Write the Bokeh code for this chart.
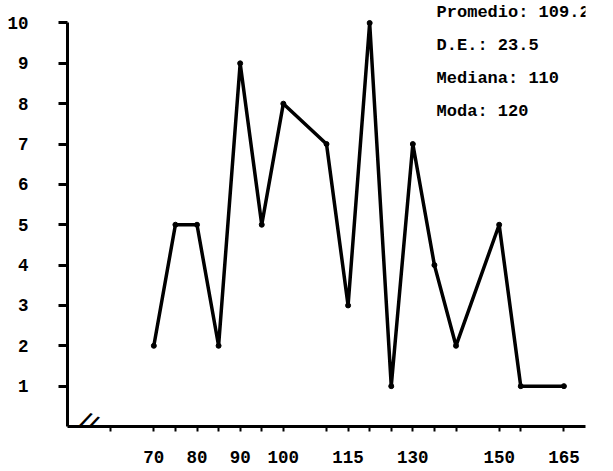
from bokeh.plotting import figure
from bokeh.models import Range1d, FixedTicker, Label
from bokeh.embed import file_html
from bokeh.resources import INLINE

# data
x_vals = [70, 75, 80, 85, 90, 95, 100, 110, 115, 120, 125, 130, 135, 140, 150, 155, 165]
freq = [2, 5, 5, 2, 9, 5, 8, 7, 3, 10, 1, 7, 4, 2, 5, 1, 1]
x_ticks = [60, 70, 75, 80, 85, 90, 95, 100, 110, 115, 120, 125, 130, 135, 140, 150, 155, 165]
x_labels = [70, 80, 90, 100, 115, 130, 150, 165]
y_ticks = [1, 2, 3, 4, 5, 6, 7, 8, 9, 10]
stats = ["Promedio: 109.2", "D.E.: 23.5", "Mediana: 110", "Moda: 120"]
stats_y = [10.25, 9.43, 8.62, 7.81]

FONT = "Liberation Mono"
FS = "17.5px"

p = figure(width=612, height=470, output_backend="svg", toolbar_location=None,
           x_range=Range1d(50, 170), y_range=Range1d(0, 10.557),
           min_border_left=67, min_border_right=27, min_border_top=0, min_border_bottom=44)
p.outline_line_color = None
p.grid.visible = False
p.background_fill_color = "white"
p.border_fill_color = "white"

xa = p.xaxis[0]
xa.ticker = FixedTicker(ticks=x_ticks)
xa.major_label_overrides = {t: (str(t) if t in x_labels else "") for t in x_ticks}
xa.bounds = (50, 170)
xa.axis_line_width = 3
xa.major_tick_line_width = 2
xa.major_tick_out = 5
xa.major_tick_in = 0
xa.minor_tick_line_color = None
xa.major_label_standoff = 19
xa.major_label_text_font = FONT
xa.major_label_text_font_style = "bold"
xa.major_label_text_font_size = FS
xa.major_label_text_color = "black"

ya = p.yaxis[0]
ya.ticker = FixedTicker(ticks=y_ticks)
ya.bounds = (0, 10)
ya.axis_line_width = 3
ya.major_tick_line_width = 3
ya.major_tick_out = 9
ya.major_tick_in = 0
ya.minor_tick_line_color = None
ya.major_label_standoff = 30
ya.major_label_text_font = FONT
ya.major_label_text_font_style = "bold"
ya.major_label_text_font_size = FS
ya.major_label_text_color = "black"

# axis break mark
p.add_layout(Label(x=55.0, y=0.12, text="//", text_font="DejaVu Sans", text_font_style="bold",
                   text_font_size="22px", text_align="center", text_baseline="middle",
                   angle=-0.45, text_color="black"))

p.line(x_vals, freq, line_width=3.5, line_color="black", line_join="round", line_cap="round")
p.scatter(x_vals, freq, size=5, color="black")

for s, yy in zip(stats, stats_y):
    p.add_layout(Label(x=135.5, y=yy, text=s, text_font=FONT, text_font_style="bold",
                       text_font_size="17px", text_baseline="middle", text_color="black"))

open("out.html", "w").write(file_html(p, INLINE))
